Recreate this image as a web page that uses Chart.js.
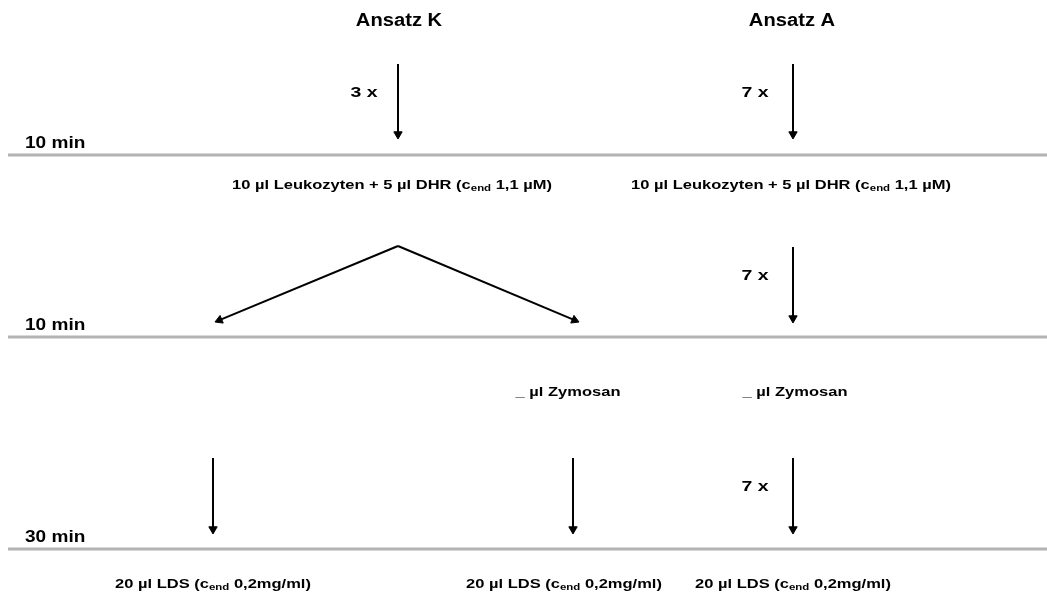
<!DOCTYPE html>
<html>
<head>
<meta charset="utf-8">
<script src="https://cdn.jsdelivr.net/npm/chart.js@4.4.0/dist/chart.umd.min.js"></script>
<style>
html, body { margin: 0; padding: 0; background: #fff; overflow: hidden; }
canvas { display: block; }
</style>
</head>
<body>
<canvas id="flow" width="1047" height="592"></canvas>
<script>
// Ablaufschema Ansatz K / Ansatz A, drawn on a 0..1047 x 0..592 plane

// columns of the scheme
let groups = ["Ansatz K", "Ansatz A"];
let groupX = [399, 792];

// time steps (separator lines)
let stepTimes = ["10 min", "10 min", "30 min"];
let stepLevels = [155, 337, 549];

// arrows: start and tip
let arrowFrom = [[398, 64], [793, 64], [398, 246], [398, 246], [793, 247], [213, 458], [573, 458], [793, 458]];
let arrowTo = [[398, 139], [793, 139], [215, 322], [579, 322], [793, 323], [213, 534], [573, 534], [793, 534]];

// repeat counts next to arrows
let repeats = ["3 x", "7 x", "7 x", "7 x"];
let repeatAt = [[364, 93], [755, 93], [755, 276], [755, 487]];

// reagents added, "_{...}" = subscript
let reagents = [
    "10 µl Leukozyten + 5 µl DHR (c_{end} 1,1 µM)",
    "10 µl Leukozyten + 5 µl DHR (c_{end} 1,1 µM)",
    "_ µl Zymosan",
    "_ µl Zymosan",
    "20 µl LDS (c_{end} 0,2mg/ml)",
    "20 µl LDS (c_{end} 0,2mg/ml)",
    "20 µl LDS (c_{end} 0,2mg/ml)"
];
let reagentAt = [[392, 185], [791, 185], [568, 392], [795, 392], [213, 584], [564, 584], [793, 584]];

let headSize = 4.8;
let fontName = "'Liberation Sans', Arial, sans-serif";

let datasets = [];

// gray separators
stepLevels.forEach(function (lvl) {
    datasets.push({
        type: "line",
        data: [{x: 8, y: lvl}, {x: 1047, y: lvl}],
        borderColor: "#b3b3b3",
        borderWidth: 3,
        pointRadius: 0
    });
});

// arrows, line stops at the centre of the triangle head
arrowFrom.forEach(function (from, i) {
    let to = arrowTo[i];
    let dx = to[0] - from[0];
    let dy = to[1] - from[1];
    let len = Math.sqrt(dx * dx + dy * dy);
    let ux = dx / len, uy = dy / len;
    let angle = Math.atan2(ux, -uy) * 180 / Math.PI;
    datasets.push({
        type: "line",
        data: [{x: from[0], y: from[1]}, {x: to[0] - ux * headSize, y: to[1] - uy * headSize}],
        borderColor: "#000",
        borderWidth: 2,
        pointStyle: "triangle",
        pointRadius: [0, headSize],
        pointHoverRadius: [0, headSize],
        pointRotation: [0, angle],
        pointBackgroundColor: "#000",
        pointBorderColor: "#000",
        pointBorderWidth: 1
    });
});

// text with subscripts, stretched sideways like the original bitmap font
function drawRich(ctx, str, x0, cy, size, stretch, align) {
    let parts = [];
    let re = /_\{([^}]*)\}/g;
    let last = 0, m;
    while ((m = re.exec(str)) !== null) {
        if (m.index > last) parts.push({t: str.slice(last, m.index), sub: false});
        parts.push({t: m[1], sub: true});
        last = re.lastIndex;
    }
    if (last < str.length) parts.push({t: str.slice(last), sub: false});

    let mainFont = "bold " + size + "px " + fontName;
    let subFont = "bold " + Math.round(size * 0.72) + "px " + fontName;
    let total = 0;
    parts.forEach(function (p) {
        ctx.font = p.sub ? subFont : mainFont;
        p.w = ctx.measureText(p.t).width;
        total += p.w;
    });
    ctx.save();
    ctx.translate(x0, cy);
    ctx.scale(stretch, 1);
    let x = align === "left" ? 0 : -total / 2;
    ctx.textAlign = "left";
    ctx.textBaseline = align === "left" ? "alphabetic" : "middle";
    parts.forEach(function (p) {
        ctx.font = p.sub ? subFont : mainFont;
        ctx.fillText(p.t, x, p.sub ? size * 0.3 : 0);
        x += p.w;
    });
    ctx.restore();
}

let textPlugin = {
    id: "schemeText",
    afterDatasetsDraw: function (chart) {
        let ctx = chart.ctx;
        let sx = chart.scales.x, sy = chart.scales.y;
        ctx.save();
        ctx.fillStyle = "#000";

        groups.forEach(function (g, i) {
            drawRich(ctx, g, sx.getPixelForValue(groupX[i]), sy.getPixelForValue(21.5), 18, 1.12, "center");
        });

        stepTimes.forEach(function (t, i) {
            drawRich(ctx, t, sx.getPixelForValue(25), sy.getPixelForValue(stepLevels[i] - 7), 17, 1.12, "left");
        });

        repeats.forEach(function (r, i) {
            drawRich(ctx, r, sx.getPixelForValue(repeatAt[i][0]), sy.getPixelForValue(repeatAt[i][1]), 15, 1.3, "center");
        });

        reagents.forEach(function (r, i) {
            drawRich(ctx, r, sx.getPixelForValue(reagentAt[i][0]), sy.getPixelForValue(reagentAt[i][1]), 13, 1.27, "center");
        });
        ctx.restore();
    }
};

new Chart(document.getElementById("flow"), {
    type: "line",
    data: {datasets: datasets},
    options: {
        responsive: false,
        animation: false,
        events: [],
        layout: {padding: 0, autoPadding: false},
        plugins: {legend: {display: false}, tooltip: {enabled: false}},
        scales: {
            x: {type: "linear", min: 0, max: 1047, display: false},
            y: {type: "linear", min: 0, max: 592, reverse: true, display: false}
        }
    },
    plugins: [textPlugin]
});
</script>
</body>
</html>
